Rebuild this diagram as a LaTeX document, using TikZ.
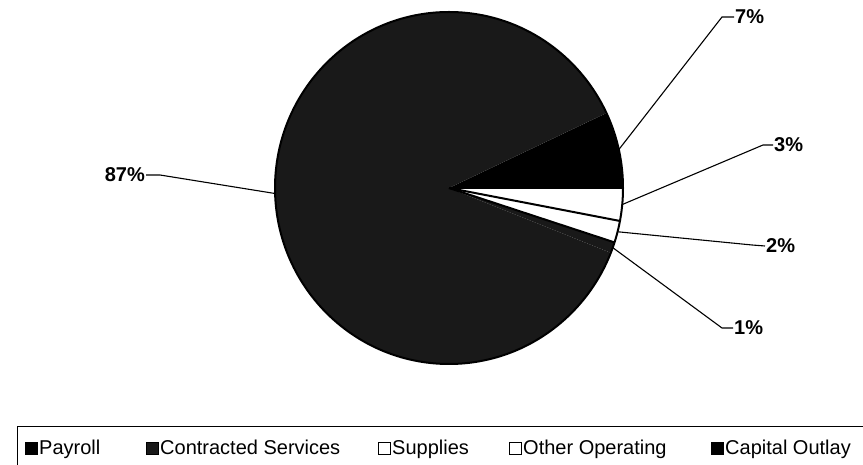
\documentclass[tikz,border=0pt]{standalone}
\usepackage{fontspec}
\setmainfont{Liberation Sans}
\usetikzlibrary{calc}
\begin{document}
\begin{tikzpicture}[x=1pt,y=1pt,
  pct/.style={font=\fontsize{20}{24}\selectfont\bfseries, inner sep=1pt},
  leader/.style={line width=1.1pt},
  legtext/.style={font=\fontsize{20}{23}\selectfont, inner sep=0pt, anchor=base west},
  legsq/.style={minimum size=12pt, inner sep=0pt, anchor=south west, draw=black, line width=1.2pt},
  border/.style={line width=2pt},
  darkfill/.style={fill=black!90}]
\useasboundingbox (0,0) rectangle (863,465);
\coordinate (c) at (449,277);
% slices
\fill[black] (c) -- ++(0:174 and 176) arc[start angle=0,end angle=25.2,x radius=174,y radius=176] -- cycle;
\fill[darkfill] (c) -- ++(25.2:174 and 176) arc[start angle=25.2,end angle=338.4,x radius=174,y radius=176] -- cycle;
\fill[darkfill] (c) -- ++(338.4:174 and 176) arc[start angle=338.4,end angle=342,x radius=174,y radius=176] -- cycle;
% borders
\draw[border] (c) ellipse[x radius=174, y radius=176];
\draw[border] (c) -- ++(0:174 and 176);
\draw[border] (c) -- ++(-10.8:174 and 176);
\draw[border] (c) -- ++(-18:174 and 176);
% edge points
\coordinate (e87) at ($(c)+(181.8:174 and 176)$);
\coordinate (e7) at ($(c)+(12.6:174 and 176)$);
\coordinate (e3) at ($(c)+(-5.4:174 and 176)$);
\coordinate (e2) at ($(c)+(-14.4:174 and 176)$);
\coordinate (e1) at ($(c)+(-19.8:174 and 176)$);
% labels
\node[pct, anchor=east] (l87) at (146,290) {87\%};
\node[pct, anchor=west] (l7) at (734,448) {7\%};
\node[pct, anchor=west] (l3) at (773,320) {3\%};
\node[pct, anchor=west] (l2) at (765,219) {2\%};
\node[pct, anchor=west] (l1) at (733,137) {1\%};
\coordinate (k87) at (160,290);
\coordinate (k7) at (722,448);
\coordinate (k3) at (763,320);
\coordinate (k2) at (752,220);
\coordinate (k1) at (722,137);
\draw[leader] (e87) -- (k87) -- (l87.east);
\draw[leader] (e7) -- (k7) -- (l7.west);
\draw[leader] (e3) -- (k3) -- (l3.west);
\draw[leader] (e2) -- (k2) -- (l2.west);
\draw[leader] (e1) -- (k1) -- (l1.west);
% legend
\begin{scope}
\clip (0,0) rectangle (863,465);
\draw[line width=1pt] (17,-5) -- (17,38) -- (870,38);
\end{scope}
\node[legsq, fill=black] (s1) at (25,10) {};
\node[legtext] (t1) at (39,10) {Payroll};
\node[legsq, darkfill] (s2) at (146,10) {};
\node[legtext] (t2) at (160,10) {Contracted Services};
\node[legsq, fill=white] (s3) at (378,10) {};
\node[legtext] (t3) at (392,10) {Supplies};
\node[legsq, fill=white] (s4) at (509,10) {};
\node[legtext] (t4) at (523,10) {Other Operating};
\node[legsq, fill=black] (s5) at (711,10) {};
\node[legtext] (t5) at (725,10) {Capital Outlay};
\end{tikzpicture}
\end{document}
